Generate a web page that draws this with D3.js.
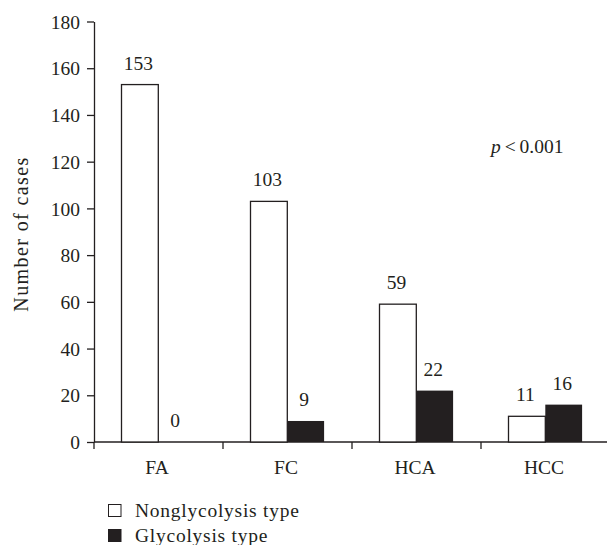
<!DOCTYPE html>
<meta charset="utf-8">
<title>glycolysis cases</title>
<script src="https://d3js.org/d3.v7.min.js"></script>
<style>
body { margin: 0; background: #fff; }
text {
  font-family: "Liberation Serif", "Times New Roman", serif;
  fill: #231f20;
}
.axis path, .axis line { stroke: #231f20; stroke-width: 1.3px; }
</style>
<body>
<script>

// data
var categories = ["FA", "FC", "HCA", "HCC"];
var nonglycolysis = [153, 103, 59, 11];
var glycolysis = [0, 9, 22, 16];
var seriesNames = ["Nonglycolysis type", "Glycolysis type"];
var yTicks = [0, 20, 40, 60, 80, 100, 120, 140, 160, 180];

var width = 607, height = 545;
var fontSize = 19.5;

var svg = d3.select("body").append("svg")
    .attr("width", width)
    .attr("height", height);

var x = d3.scaleBand()
    .domain(categories)
    .range([94, 610])
    .paddingInner(0)
    .paddingOuter(0);

var y = d3.scaleLinear()
    .domain([0, 180])
    .range([442, 21.5]);

var barW = 36.8;
var pairOff = 27.5;

// y axis
var yAxis = svg.append("g")
    .attr("class", "axis")
    .attr("transform", "translate(94,0)")
    .call(d3.axisLeft(y).tickValues(yTicks).tickSize(7).tickSizeOuter(0).tickPadding(7));
yAxis.selectAll("text")
    .attr("font-size", fontSize)
    .attr("dy", "0.34em");

// x axis, ticks at band boundaries
var xAxis = svg.append("g")
    .attr("class", "axis")
    .attr("transform", "translate(0," + y(0) + ")");
xAxis.append("line")
    .attr("x1", x.range()[0]).attr("x2", x.range()[1])
    .attr("y1", 0).attr("y2", 0);
xAxis.selectAll("line.tick")
    .data(categories)
    .enter().append("line")
    .attr("class", "tick")
    .attr("x1", function(d) { return x(d); })
    .attr("x2", function(d) { return x(d); })
    .attr("y1", 0).attr("y2", 7);
xAxis.selectAll("text.cat")
    .data(categories)
    .enter().append("text")
    .attr("class", "cat")
    .attr("x", function(d) { return x(d) + x.bandwidth() / 2 - 1.5; })
    .attr("y", 32)
    .attr("text-anchor", "middle")
    .attr("font-size", fontSize)
    .text(function(d) { return d; });

// bars
var groups = svg.append("g").selectAll("g")
    .data(categories)
    .enter().append("g");

groups.append("rect")
    .attr("x", function(d) { return x(d) + pairOff; })
    .attr("y", function(d, i) { return y(nonglycolysis[i]); })
    .attr("width", barW)
    .attr("height", function(d, i) { return y(0) - y(nonglycolysis[i]); })
    .attr("fill", "#fff")
    .attr("stroke", "#231f20")
    .attr("stroke-width", 1.3);

groups.append("rect")
    .attr("x", function(d) { return x(d) + pairOff + barW; })
    .attr("y", function(d, i) { return y(glycolysis[i]); })
    .attr("width", barW)
    .attr("height", function(d, i) { return y(0) - y(glycolysis[i]); })
    .attr("fill", "#231f20");

groups.append("text")
    .attr("x", function(d) { return x(d) + pairOff + barW / 2 - 1.5; })
    .attr("y", function(d, i) { return y(nonglycolysis[i]) - 15; })
    .attr("text-anchor", "middle")
    .attr("font-size", fontSize)
    .text(function(d, i) { return nonglycolysis[i]; });

groups.append("text")
    .attr("x", function(d) { return x(d) + pairOff + barW * 1.5 - 1.5; })
    .attr("y", function(d, i) { return y(glycolysis[i]) - 15; })
    .attr("text-anchor", "middle")
    .attr("font-size", fontSize)
    .text(function(d, i) { return glycolysis[i]; });

// y label
svg.append("text")
    .attr("transform", "translate(28,234) rotate(-90)")
    .attr("text-anchor", "middle")
    .attr("font-size", 20)
    .attr("letter-spacing", 1.4)
    .text("Number of cases");

// p value
var p = svg.append("text")
    .attr("x", 491)
    .attr("y", 153)
    .attr("font-size", fontSize);
p.append("tspan").attr("font-style", "italic").text("p");
p.append("tspan").text("\u2009<\u20090.001");

// legend
var legend = svg.selectAll(".legend")
    .data(seriesNames)
    .enter().append("g")
    .attr("class", "legend")
    .attr("transform", function(d, i) { return "translate(108," + (504 + i * 25) + ")"; });

legend.append("rect")
    .attr("x", 0.5).attr("y", 0.5)
    .attr("width", 12.5).attr("height", 12)
    .attr("fill", function(d, i) { return i == 0 ? "#fff" : "#231f20"; })
    .attr("stroke", "#231f20")
    .attr("stroke-width", 1);

legend.append("text")
    .attr("x", 27)
    .attr("y", 12.8)
    .attr("font-size", fontSize)
    .attr("letter-spacing", 0.75)
    .text(function(d) { return d; });

</script>
</body>
</html>
